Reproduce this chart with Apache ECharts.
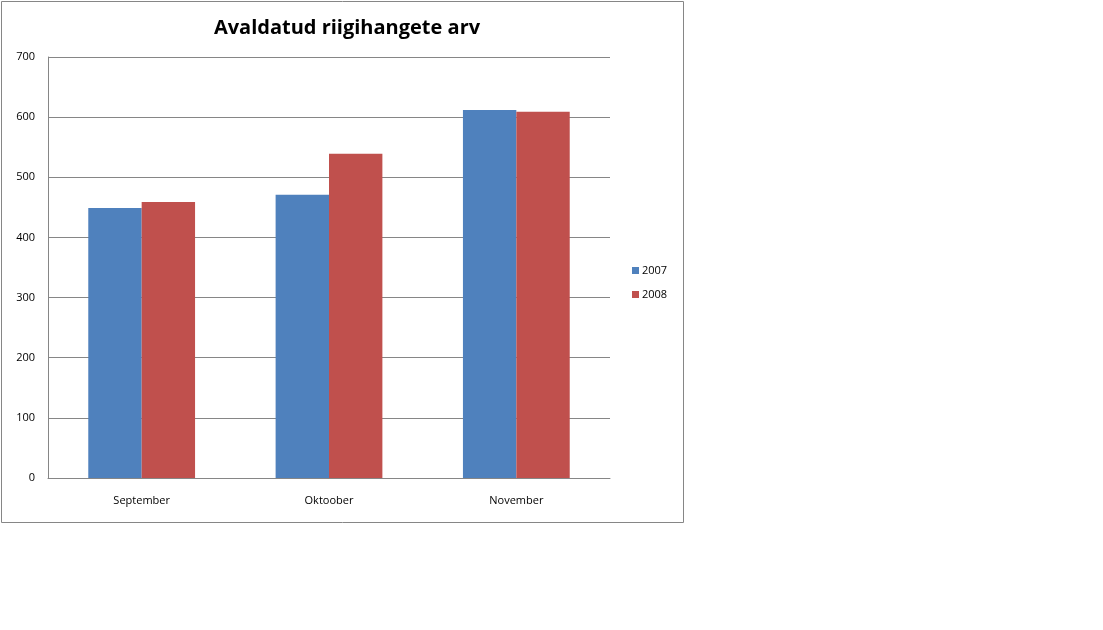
<!DOCTYPE html>
<html>
<head>
<meta charset="utf-8">
<script src="https://cdn.jsdelivr.net/npm/echarts@6/dist/echarts.min.js"></script>
<style>
  html, body { margin: 0; padding: 0; background: #fff; }
  #main { width: 1103px; height: 630px; }
</style>
</head>
<body>
<div id="main"></div>
<script>
var months = ['September', 'Oktoober', 'November'];
var y2007 = [449, 471, 612];
var y2008 = [459, 539, 609];

var myChart = echarts.init(document.getElementById('main'));
var font = '"Open Sans", "DejaVu Sans", sans-serif';

var option = {
  animation : false,
  backgroundColor : '#fff',
  title : {
    text : 'Avaldatud riigihangete arv',
    left : 342,
    textAlign : 'center',
    top : 13,
    textStyle : {
      fontFamily : font,
      fontSize : 20,
      fontWeight : 'bold',
      color : '#000'
    }
  },
  legend : {
    orient : 'vertical',
    left : 627,
    top : 260,
    itemWidth : 7,
    itemHeight : 7,
    itemGap : 13,
    icon : 'rect',
    textStyle : {
      fontFamily : font,
      fontSize : 11,
      color : '#000',
      padding : [0, 0, 0, -2]
    },
    data : ['2007', '2008']
  },
  graphic : [ {
    type : 'rect',
    shape : { x : 1.5, y : 1.5, width : 682, height : 521 },
    style : { fill : 'none', stroke : '#868686', lineWidth : 1 }
  } ],
  grid : {
    left : 48,
    top : 57,
    width : 562,
    height : 421
  },
  xAxis : [ {
    type : 'category',
    data : months,
    axisLine : { lineStyle : { color : '#868686' } },
    axisTick : { show : false },
    axisLabel : {
      margin : 17,
      fontFamily : font,
      fontSize : 11,
      color : '#000'
    }
  } ],
  yAxis : [ {
    type : 'value',
    min : 0,
    max : 700,
    interval : 100,
    axisLine : { show : true, lineStyle : { color : '#868686' } },
    axisTick : { show : false },
    splitLine : { lineStyle : { color : '#868686' } },
    axisLabel : {
      margin : 13,
      fontFamily : font,
      fontSize : 11,
      color : '#000'
    }
  } ],
  series : [ {
    name : '2007',
    type : 'bar',
    barGap : '0%',
    barCategoryGap : '43%',
    itemStyle : { color : '#4F81BD' },
    data : y2007
  }, {
    name : '2008',
    type : 'bar',
    itemStyle : { color : '#C0504D' },
    data : y2008
  } ]
};
myChart.setOption(option);
</script>
</body>
</html>
